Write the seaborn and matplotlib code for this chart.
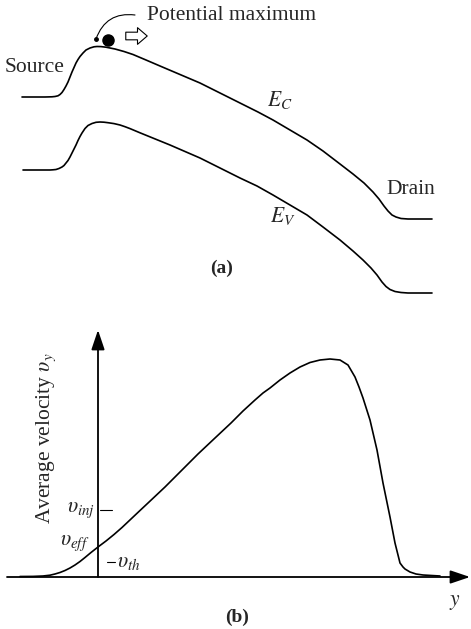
import numpy as np
import pandas as pd
import seaborn as sns
import matplotlib.pyplot as plt
from matplotlib.patches import FancyArrowPatch, ArrowStyle

# (a) band diagram along the channel (arbitrary units)
ec_pos = [-7.6, -5.3, -4.6, -4.3, -4.0, -3.8, -3.6, -3.4, -3.2, -3.0, -2.8, -2.6, -2.4,
          -2.2, -2.0, -1.8, -1.5, -1.2, -0.8, -0.4, -0.1, 0.3, 0.8, 1.7, 2.6, 3.5, 4.8,
          6.2, 8.2, 10.2, 12.2, 14.2, 16.0, 17.5, 19.2, 20.9, 22.5, 24.2, 25.5, 26.6,
          27.5, 28.1, 28.6, 29.0, 29.4, 29.8, 30.3, 31.0, 33.4]
ec_val = [0.0, 0.0, 0.02, 0.05, 0.12, 0.25, 0.45, 0.75, 1.1, 1.5, 2.0, 2.5, 2.95,
          3.4, 3.75, 4.05, 4.4, 4.7, 4.9, 5.02, 5.05, 5.04, 4.98, 4.8, 4.55, 4.25, 3.7,
          3.1, 2.25, 1.4, 0.4, -0.6, -1.5, -2.3, -3.3, -4.3, -5.4, -6.7, -7.7, -8.6,
          -9.5, -10.2, -10.9, -11.4, -11.8, -12.0, -12.15, -12.2, -12.2]

ev_pos = [-7.5, -4.8, -4.5, -4.2, -3.9, -3.6, -3.4, -3.2, -3.0, -2.8, -2.6, -2.4, -2.2,
          -2.0, -1.8, -1.6, -1.3, -1.0, -0.6, -0.2, 0.2, 0.6, 1.0, 1.6, 2.2, 2.7, 3.2, 4.2,
          7.2, 10.2, 12.2, 14.2, 15.9, 17.5, 19.2, 20.9, 22.5, 24.2, 25.5, 26.5, 27.3,
          27.9, 28.4, 28.8, 29.2, 29.7, 30.3, 31.0, 33.4]
ev_val = [-7.3, -7.3, -7.28, -7.25, -7.15, -7.0, -6.85, -6.6, -6.35, -6.0, -5.6, -5.2, -4.8,
          -4.35, -3.95, -3.6, -3.15, -2.85, -2.65, -2.53, -2.5, -2.52, -2.57, -2.66, -2.8,
          -2.97, -3.16, -3.58, -4.8, -6.1, -7.1, -8.1, -8.9, -9.8, -10.8, -11.8, -13.0, -14.3,
          -15.4, -16.3, -17.1, -17.8, -18.5, -18.95, -19.25, -19.45, -19.55, -19.6, -19.6]

# (b) average velocity along the channel
vel_pos = [-7.8, -6.5, -5.5, -4.8, -4.3, -3.8, -3.3, -2.8, -2.3, -1.8, -1.3, -0.7, 0.0,
           0.8, 1.6, 2.4, 3.3, 4.2, 5.0, 6.7, 8.3, 10.0, 11.7, 13.3, 14.5, 15.7, 16.5,
           17.2, 18.2, 19.2, 20.2, 21.2, 22.2, 23.2, 24.2, 25.0, 25.7, 26.1, 26.5, 27.2,
           27.9, 28.5, 29.2, 29.7, 30.0, 30.2, 30.5, 30.7, 31.2, 31.8, 32.5, 34.2]
vel_val = [0.05, 0.06, 0.1, 0.18, 0.3, 0.45, 0.65, 0.9, 1.2, 1.55, 1.95, 2.45, 3.0,
           3.6, 4.25, 4.95, 5.8, 6.65, 7.4, 9.0, 10.6, 12.3, 13.9, 15.4, 16.6, 17.7, 18.4,
           18.9, 19.7, 20.4, 21.0, 21.45, 21.7, 21.8, 21.7, 21.2, 20.0, 19.0, 17.9, 15.7,
           12.7, 9.4, 6.0, 3.4, 2.2, 1.4, 1.0, 0.8, 0.5, 0.3, 0.2, 0.1]

v_inj, v_th = 6.7, 1.5

sns.set_theme(style='white')
plt.rcParams['font.family'] = ['Liberation Serif', 'DejaVu Serif']
plt.rcParams['mathtext.fontset'] = 'stix'

fig = plt.figure(figsize=(4.71, 6.29), dpi=100)
ax_a = fig.add_axes([0, 1 - 300 / 629, 1, 300 / 629])
ax_b = fig.add_axes([0, 0, 1, 329 / 629])

lw = 1.2
fs = 15.5

# ---- panel (a)
sns.lineplot(x=ec_pos, y=ec_val, ax=ax_a, color='black', lw=lw, estimator=None)
sns.lineplot(x=ev_pos, y=ev_val, ax=ax_a, color='black', lw=lw, estimator=None)
ax_a.set_xlim(-9.8, 37.3)
ax_a.set_ylim(-20.3, 9.7)

ax_a.text(-6.3, 2.9, 'Source', fontsize=fs, ha='center', va='center')
ax_a.text(31.3, -9.3, 'Drain', fontsize=fs, ha='center', va='center')
ax_a.text(18.2, -0.3, '$E_C$', fontsize=fs, ha='center', va='center')
ax_a.text(18.5, -11.9, '$E_V$', fontsize=fs, ha='center', va='center')
ax_a.text(12.4, -17.1, '(a)', fontsize=14, fontweight='bold', ha='center', va='center')

ax_a.text(4.9, 8.2, 'Potential maximum', fontsize=fs, ha='left', va='center')
ax_a.annotate('', xy=(-0.2, 5.8), xytext=(3.7, 8.2),
              arrowprops=dict(arrowstyle='-', color='black', lw=0.8,
                              connectionstyle='arc3,rad=0.4', shrinkA=0, shrinkB=0))
ax_a.plot([-0.2], [5.8], 'o', color='black', ms=2.5)
ax_a.plot([1.0], [5.7], 'o', color='black', ms=8)
ax_a.add_patch(FancyArrowPatch((2.5, 6.1), (5.2, 6.1),
                               arrowstyle=ArrowStyle.Simple(head_length=7, head_width=12,
                                                            tail_width=5.5),
                               mutation_scale=1, fc='white', ec='black', lw=0.8))

# ---- panel (b)
sns.lineplot(x=vel_pos, y=vel_val, ax=ax_b, color='black', lw=lw, estimator=None)
ax_b.set_xlim(-9.8, 37.3)
ax_b.set_ylim(-5.2, 27.7)

axis_arrow = dict(arrowstyle=ArrowStyle('-|>', head_length=0.8, head_width=0.27),
                  color='black', lw=1.3, mutation_scale=15, shrinkA=0, shrinkB=0)
ax_b.annotate('', xy=(37.2, 0), xytext=(-9.1, 0), arrowprops=axis_arrow)
ax_b.annotate('', xy=(0, 24.7), xytext=(0, 0), arrowprops=axis_arrow)

ax_b.plot([0.2, 1.4], [v_inj, v_inj], color='black', lw=0.8)
ax_b.plot([0.9, 1.7], [v_th, v_th], color='black', lw=0.8)
ax_b.text(-0.3, v_inj, r'$\upsilon_{inj}$', fontsize=fs, ha='right', va='center')
ax_b.text(-2.3, 3.4, r'$\upsilon_{eff}$', fontsize=fs, ha='center', va='center')
ax_b.text(1.9, v_th, r'$\upsilon_{th}$', fontsize=fs, ha='left', va='center')
ax_b.text(-5.2, 13.9, r'Average velocity $\upsilon_y$', fontsize=fs, rotation=90,
          ha='center', va='center')
ax_b.text(35.7, -2.6, '$y$', fontsize=fs, ha='center', va='center')
ax_b.text(13.9, -4.0, '(b)', fontsize=14, fontweight='bold', ha='center', va='center')

for ax in (ax_a, ax_b):
    ax.set_axis_off()

fig.savefig('out.png', dpi=100)
